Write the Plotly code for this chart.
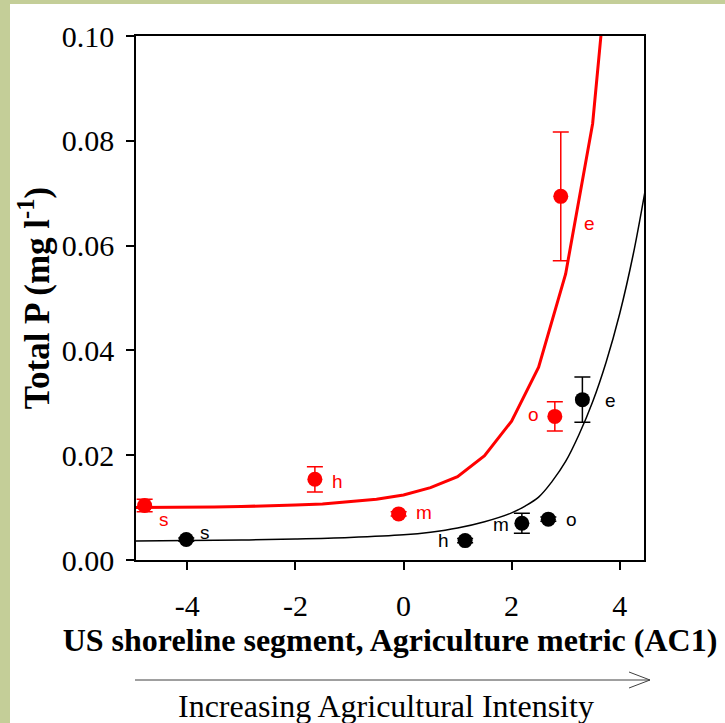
import plotly.graph_objects as go

# ---- data ----
segments = ["s", "h", "m", "o", "e"]
red_x = [-4.79, -1.64, -0.09, 2.80, 2.91]
red_y = [0.0104, 0.0154, 0.0088, 0.0274, 0.0694]
red_err = [0.0012, 0.0024, 0.0004, 0.0028, 0.0123]
black_x = [-4.02, 1.14, 2.19, 2.68, 3.31]
black_y = [0.0039, 0.0037, 0.0070, 0.0078, 0.0306]
black_err = [0.0003, 0.0004, 0.0019, 0.0004, 0.0043]

red_fit_x = [-5, -4.5, -4, -3.5, -3, -2.5, -2, -1.5, -1, -0.5, 0, 0.5, 1, 1.5, 2, 2.5, 3, 3.5, 4]
red_fit_y = [0.0100, 0.0100, 0.0101, 0.0101, 0.0102, 0.0103, 0.0105, 0.0107, 0.0111, 0.0116,
             0.0124, 0.0138, 0.0159, 0.0199, 0.0265, 0.0368, 0.0546, 0.0833, 0.1380]
black_fit_x = [-5, -4, -3, -2, -1, 0, 0.5, 1, 1.5, 2, 2.25, 2.5, 2.75, 3, 3.25, 3.5, 3.75, 4, 4.25, 4.5]
black_fit_y = [0.0036, 0.0037, 0.0038, 0.0040, 0.0043, 0.0048, 0.0053, 0.0061, 0.0073, 0.0090,
               0.0103, 0.0120, 0.0150, 0.0188, 0.0240, 0.0302, 0.0378, 0.0470, 0.0583, 0.0722]

x_ticks = [-4, -2, 0, 2, 4]
y_ticks = [0.00, 0.02, 0.04, 0.06, 0.08, 0.10]

# label offsets (px) for each point label
red_lab_dx = [19, 23, 25, -21, 29]
red_lab_dy = [-14, -2, 1, 2, -27]
black_lab_dx = [19, -22, -21, 23, 28]
black_lab_dy = [7, 0, -1, 0, -1]

RED = "#ff0000"
BLACK = "#000000"
GREEN = "#c4ce98"
SERIF = "Liberation Serif, Times New Roman, serif"
SANS = "Liberation Sans, Arial, sans-serif"

fig = go.Figure()

fig.add_trace(go.Scatter(x=red_fit_x, y=red_fit_y, mode="lines",
                         line=dict(color=RED, width=3), hoverinfo="skip"))
fig.add_trace(go.Scatter(x=black_fit_x, y=black_fit_y, mode="lines",
                         line=dict(color=BLACK, width=1.5, shape="spline", smoothing=1.0),
                         hoverinfo="skip"))
fig.add_trace(go.Scatter(x=red_x, y=red_y, mode="markers",
                         marker=dict(color=RED, size=15),
                         error_y=dict(type="data", array=red_err, color=RED, thickness=1.5, width=8),
                         cliponaxis=False))
fig.add_trace(go.Scatter(x=black_x, y=black_y, mode="markers",
                         marker=dict(color=BLACK, size=15),
                         error_y=dict(type="data", array=black_err, color=BLACK, thickness=1.5, width=8),
                         cliponaxis=False))

for i, s in enumerate(segments):
    fig.add_annotation(x=red_x[i], y=red_y[i], text=s, showarrow=False,
                       xanchor="center", yanchor="middle",
                       xshift=red_lab_dx[i], yshift=red_lab_dy[i],
                       font=dict(family=SANS, size=19, color=RED))
    fig.add_annotation(x=black_x[i], y=black_y[i], text=s, showarrow=False,
                       xanchor="center", yanchor="middle",
                       xshift=black_lab_dx[i], yshift=black_lab_dy[i],
                       font=dict(family=SANS, size=19, color=BLACK))

# plot geometry in px
L, R, T, B = 136, 644, 36, 560
W, H = 725, 723
def px(xp):
    return (xp - L) / (R - L)
def py(yp):
    return (B - yp) / (B - T)

# white page inside green border
fig.add_shape(type="rect", xref="paper", yref="paper", layer="below",
              x0=px(10), x1=px(W + 5), y0=py(4), y1=py(H + 5),
              fillcolor="white", line=dict(width=0))

# arrow
fig.add_shape(type="line", xref="paper", yref="paper",
              x0=px(135), x1=px(650), y0=py(680), y1=py(680),
              line=dict(color="#404040", width=1))
fig.add_shape(type="path", xref="paper", yref="paper",
              path=f"M {px(629)},{py(672)} L {px(650)},{py(680)} L {px(629)},{py(688)}",
              line=dict(color="#404040", width=1))
fig.add_annotation(xref="paper", yref="paper", x=px(386), y=py(706),
                   xanchor="center", yanchor="middle",
                   text="Increasing Agricultural Intensity", showarrow=False,
                   font=dict(family=SERIF, size=32, color="black"))

fig.update_layout(
    width=W, height=H,
    margin=dict(l=L, r=W - R, t=T, b=H - B, pad=0),
    paper_bgcolor=GREEN, plot_bgcolor="white",
    showlegend=False,
    font=dict(family=SERIF, color="black"),
)
fig.update_xaxes(range=[-4.95, 4.45], tickvals=x_ticks, ticktext=[str(v) for v in x_ticks],
                 ticks="outside", ticklen=8, tickwidth=1.5, tickcolor="black",
                 showline=True, linecolor="black", linewidth=1.5, mirror=True,
                 showgrid=False, zeroline=False, ticklabelstandoff=10,
                 tickfont=dict(size=30, family=SERIF),
                 title=dict(text="<b>US shoreline segment, Agriculture metric (AC1)</b>",
                            font=dict(size=32, family=SERIF), standoff=4))
fig.update_yaxes(range=[0, 0.1], tickvals=y_ticks, ticktext=[f"{v:.2f}" for v in y_ticks],
                 ticks="outside", ticklen=8, tickwidth=1.5, tickcolor="black",
                 showline=True, linecolor="black", linewidth=1.5, mirror=True,
                 showgrid=False, zeroline=False, ticklabelstandoff=6,
                 tickfont=dict(size=30, family=SERIF),
                 title=dict(text="<b>Total P (mg l<sup>-1</sup>)</b>",
                            font=dict(size=35, family=SERIF), standoff=2))

fig.write_html("out.html", config={"displayModeBar": False},
               post_script="document.body.style.margin='0px';")
